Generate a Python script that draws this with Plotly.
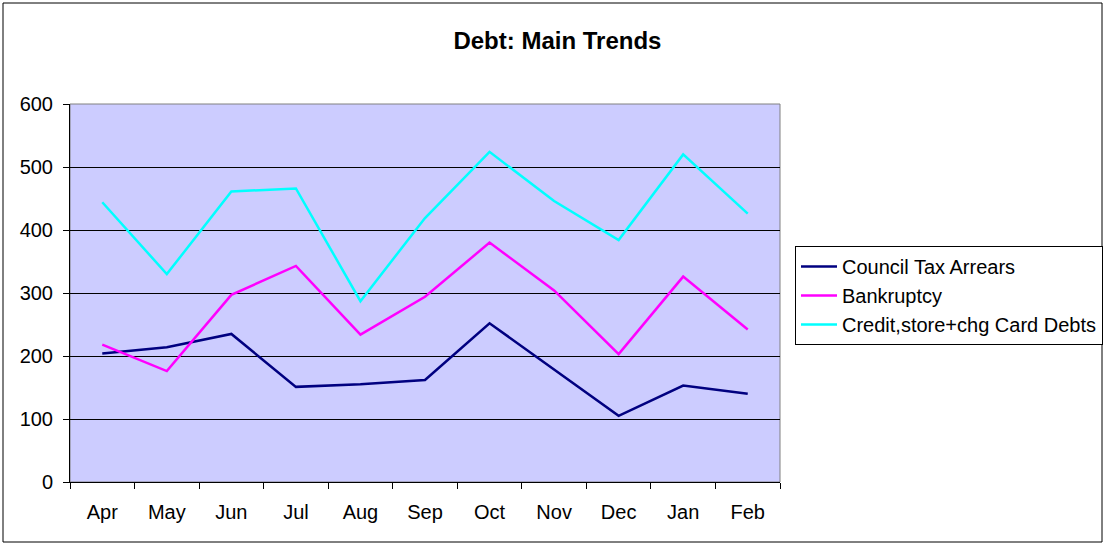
import plotly.graph_objects as go

months = ["Apr", "May", "Jun", "Jul", "Aug", "Sep", "Oct", "Nov", "Dec", "Jan", "Feb"]
council_tax = [204, 214, 235, 151, 155, 162, 252, 179, 105, 153, 140]
bankruptcy = [218, 176, 297, 343, 234, 294, 380, 304, 203, 326, 242]
credit_cards = [444, 330, 461, 466, 287, 419, 524, 446, 384, 520, 426]

series = [
    ("Council Tax Arrears", council_tax, "#000080"),
    ("Bankruptcy", bankruptcy, "#FF00FF"),
    ("Credit,store+chg Card Debts", credit_cards, "#00FFFF"),
]

FONT = "Arial, Liberation Sans, sans-serif"

fig = go.Figure()
for name, vals, col in series:
    fig.add_trace(go.Scatter(
        x=months, y=vals, name=name, mode="lines",
        line=dict(color=col, width=2.5),
    ))

# plot area is 70..780 px wide, 104..482 px tall
W, H = 710, 378
L, T = 70, 104
def px(x):
    return (x - L) / W
def py(y):
    return (T + H - y) / H

fig.update_layout(
    width=1106, height=545,
    margin=dict(l=L, r=1106 - L - W, t=T, b=545 - T - H, autoexpand=False),
    paper_bgcolor="white",
    plot_bgcolor="#CCCCFF",
    font=dict(family=FONT, size=20, color="black"),
    title=dict(
        text="<b>Debt: Main Trends</b>",
        font=dict(family=FONT, size=24, color="black"),
        x=0.504, xanchor="center", xref="container",
        y=1 - 41 / 545, yanchor="middle", yref="container",
    ),
    xaxis=dict(
        type="category", range=[-0.5, 10.5],
        showgrid=False, showline=True, linecolor="black", linewidth=1,
        ticks="outside", tickson="boundaries", ticklen=6, tickcolor="black",
        ticklabelstandoff=12, zeroline=False,
    ),
    yaxis=dict(
        range=[0, 600], dtick=100,
        showgrid=True, gridcolor="black", gridwidth=1,
        showline=True, linecolor="black", linewidth=1,
        ticks="outside", ticklen=6, tickcolor="black",
        ticklabelstandoff=6, zeroline=False,
    ),
    legend=dict(
        x=px(795), xanchor="left", y=py(246), yanchor="top",
        bordercolor="black", borderwidth=1, bgcolor="white",
        font=dict(family=FONT, size=20, color="black"),
        tracegroupgap=0, itemwidth=36,
    ),
    showlegend=True,
    shapes=[
        dict(type="rect", xref="paper", yref="paper", x0=0, x1=1, y0=0, y1=1,
             line=dict(color="#808080", width=1), layer="below"),
        dict(type="rect", xref="paper", yref="paper",
             x0=px(3), x1=px(1102), y0=py(542), y1=py(3),
             line=dict(color="black", width=1)),
    ],
)

fig.write_html("out.html", config={"displayModeBar": False},
               post_script="document.body.style.margin='0';")
